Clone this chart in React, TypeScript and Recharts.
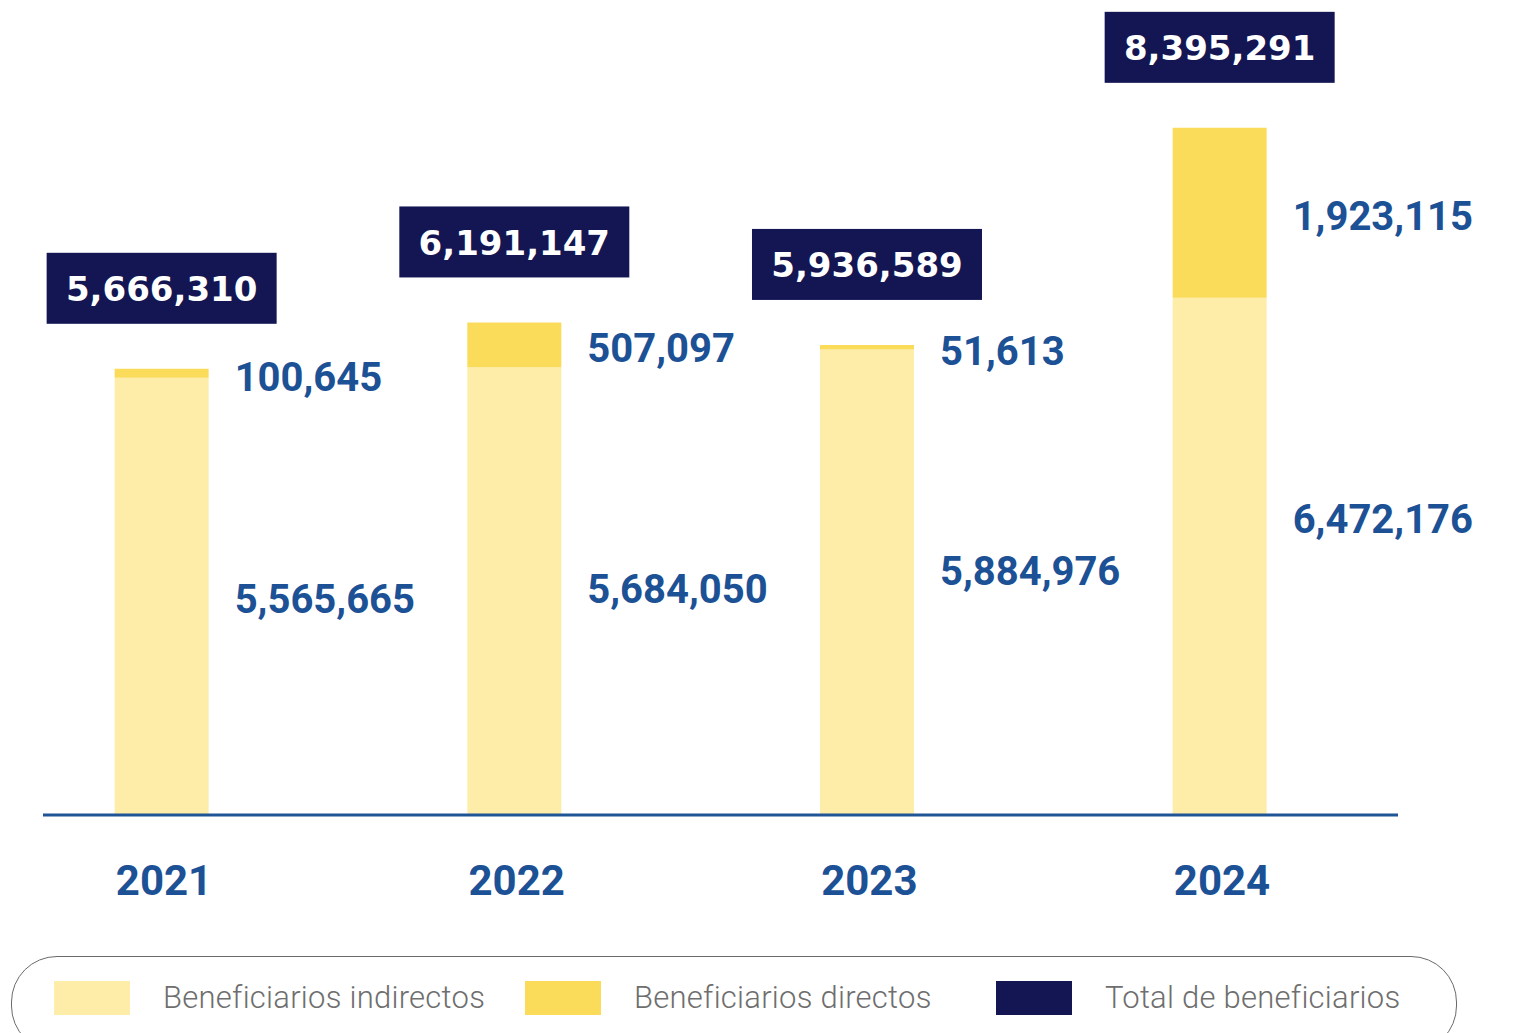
import React from 'react';
import { BarChart, Bar, XAxis, YAxis, LabelList, ReferenceLine, Legend } from 'recharts';

// ---- Data ----
const years = [2021, 2022, 2023, 2024];
const indirectBeneficiaries = [5565665, 5684050, 5884976, 6472176];
const directBeneficiaries = [100645, 507097, 51613, 1923115];
const totalBeneficiaries = [5666310, 6191147, 5936589, 8395291];
const legendLabels = ['Beneficiarios indirectos', 'Beneficiarios directos', 'Total de beneficiarios'];

const data = years.map((year, i) => ({
  year,
  indirect: indirectBeneficiaries[i],
  direct: directBeneficiaries[i],
  total: totalBeneficiaries[i],
}));

// ---- Styling ----
const COLORS = {
  indirect: '#FDEDA9',
  direct: '#FADC5A',
  total: '#131653',
  label: '#1C5195',
  axis: '#1F5496',
  legendText: '#6E6E6E',
  legendBorder: '#6A6A6A',
};

const Y_DOMAIN: [number, number] = [613000, 9843000];
const X_DOMAIN: [number, number] = [2020.5407, 2024.8847];
const AXIS_FROM = 2020.6626;
const AXIS_TO = 2024.5048;

const fmt = (v: any) => Number(v).toLocaleString('en-US');

const DirectLabel = (props: any) => {
  const { x, y, width, height, value } = props;
  return (
    <text
      x={Number(x) + Number(width) + 26}
      y={Number(y) + Number(height) / 2 + 4}
      dominantBaseline="central"
      fontFamily="Roboto, sans-serif"
      fontWeight={700}
      fontSize={40}
      fill={COLORS.label}
    >
      {fmt(value)}
    </text>
  );
};

const IndirectLabel = (props: any) => {
  const { x, y, width, value } = props;
  return (
    <text
      x={Number(x) + Number(width) + 26}
      y={Number(y) + 222}
      dominantBaseline="central"
      fontFamily="Roboto, sans-serif"
      fontWeight={700}
      fontSize={40}
      fill={COLORS.label}
    >
      {fmt(value)}
    </text>
  );
};

const TotalLabel = (props: any) => {
  const { x, y, width, value } = props;
  const cx = Number(x) + Number(width) / 2;
  const boxW = 230;
  const boxH = 71;
  const bottom = Number(y) - 45;
  return (
    <g>
      <rect x={cx - boxW / 2} y={bottom - boxH} width={boxW} height={boxH} fill={COLORS.total} />
      <text
        x={cx}
        y={bottom - boxH / 2 + 1}
        textAnchor="middle"
        dominantBaseline="central"
        fontFamily="'DejaVu Sans', sans-serif"
        fontWeight={700}
        fontSize={34}
        fill="#FFFFFF"
      >
        {fmt(value)}
      </text>
    </g>
  );
};

const YearTick = (props: any) => {
  const { x, y, payload } = props;
  return (
    <text
      x={Number(x) + 2}
      y={Number(y) + 65}
      textAnchor="middle"
      dominantBaseline="central"
      fontFamily="Roboto, sans-serif"
      fontWeight={700}
      fontSize={42}
      fill={COLORS.label}
    >
      {String(payload.value)}
    </text>
  );
};

const legendColors = [COLORS.indirect, COLORS.direct, COLORS.total];

const LegendContent = () => (
  <div
    style={{
      position: 'relative',
      width: 1446,
      height: 96,
      boxSizing: 'border-box',
      border: `1.5px solid ${COLORS.legendBorder}`,
      borderRadius: 46,
    }}
  >
    {legendLabels.map((label, i) => (
      <div
        key={label}
        style={{
          position: 'absolute',
          left: 42 + 471 * i,
          top: 24,
          height: 34,
          display: 'flex',
          alignItems: 'center',
        }}
      >
        <div style={{ width: 76, height: 34, background: legendColors[i] }} />
        <span
          style={{
            marginLeft: 33,
            fontFamily: 'Roboto, sans-serif',
            fontWeight: 300,
            fontSize: 31,
            letterSpacing: 0.25,
            color: COLORS.legendText,
            whiteSpace: 'nowrap',
            lineHeight: '34px',
          }}
        >
          {label}
        </span>
      </div>
    ))}
  </div>
);

export default function App() {
  return (
    <div
      style={{
        position: 'absolute',
        left: 0,
        top: 0,
        width: 1532,
        height: 1033,
        overflow: 'hidden',
        background: '#FFFFFF',
      }}
    >
      <BarChart
        width={1532}
        height={1033}
        data={data}
        margin={{ top: 0, right: 0, bottom: 0, left: 0 }}
        barSize={94}
      >
        <XAxis
          type="number"
          dataKey="year"
          domain={X_DOMAIN}
          ticks={years}
          interval={0}
          axisLine={false}
          tickLine={false}
          tickSize={0}
          tickMargin={0}
          height={218}
          tick={<YearTick />}
        />
        <YAxis type="number" hide domain={Y_DOMAIN} allowDataOverflow />
        <Legend
          layout="horizontal"
          verticalAlign="middle"
          align="center"
          content={<LegendContent />}
          wrapperStyle={{ left: 11, top: 956, width: 1446, height: 96 }}
        />
        <Bar dataKey="indirect" stackId="a" fill={COLORS.indirect} isAnimationActive={false}>
          <LabelList dataKey="indirect" content={<IndirectLabel />} />
        </Bar>
        <Bar dataKey="direct" stackId="a" fill={COLORS.direct} isAnimationActive={false}>
          <LabelList dataKey="direct" content={<DirectLabel />} />
          <LabelList dataKey="total" content={<TotalLabel />} />
        </Bar>
        <ReferenceLine
          segment={[
            { x: AXIS_FROM, y: Y_DOMAIN[0] },
            { x: AXIS_TO, y: Y_DOMAIN[0] },
          ]}
          stroke={COLORS.axis}
          strokeWidth={3}
          ifOverflow="visible"
        />
      </BarChart>
    </div>
  );
}
